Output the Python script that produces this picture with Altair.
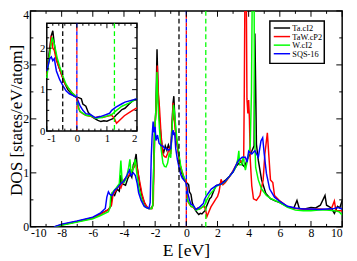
import altair as alt
import pandas as pd

FONT = "Liberation Serif, Times New Roman, serif"

series_names = ["Ta.cI2", "TaW.cP2", "W.cI2", "SQS-16"]
series_colors = ["#000000", "#ff0000", "#00ff00", "#0000ff"]

ta_e = [-8.45, -8.0, -7.0, -6.0, -5.5, -5.0, -4.85, -4.75, -4.6, -4.45, -4.3, -4.2, -4.1, -3.9, -3.75, -3.6, -3.5, -3.4, -3.3, -3.22, -3.15, -3.0, -2.85, -2.7, -2.55, -2.4, -2.25, -2.15, -2.1, -2.05, -2.0, -1.95, -1.88, -1.82, -1.75, -1.65, -1.55, -1.45, -1.35, -1.25, -1.15, -1.0, -0.92, -0.85, -0.8, -0.75, -0.68, -0.6, -0.5, -0.4, -0.3, -0.2, -0.1, 0.0, 0.08, 0.15, 0.2, 0.3, 0.38, 0.5, 0.6, 0.7, 0.8, 0.9, 1.0, 1.1, 1.2, 1.3, 1.4, 1.5, 1.6, 1.75, 1.9, 2.0, 2.2, 2.5, 2.75, 3.0, 3.2, 3.35, 3.5, 3.6, 3.75, 3.9, 4.0, 4.2, 4.35, 4.4, 4.45, 4.5, 4.62, 4.83, 5.1, 5.4, 5.7, 6.0, 6.5, 6.9, 7.1, 7.25, 7.6, 8.0, 8.3, 8.6, 8.9, 9.0, 9.3, 9.5, 9.7, 9.85, 10.0]
ta_dos = [0.0, 0.04, 0.10, 0.17, 0.24, 0.32, 0.38, 0.62, 0.58, 0.70, 0.66, 0.96, 0.80, 0.77, 0.90, 0.98, 0.92, 1.15, 1.22, 1.35, 1.10, 0.80, 0.58, 0.45, 0.37, 0.34, 0.34, 0.40, 1.0, 1.7, 1.9, 2.2, 3.29, 2.6, 2.1, 1.75, 1.45, 1.38, 1.50, 1.42, 1.52, 1.40, 1.9, 2.3, 2.42, 2.1, 1.75, 1.55, 1.35, 1.15, 1.0, 0.92, 0.85, 0.82, 0.80, 0.78, 0.65, 0.60, 0.45, 0.35, 0.30, 0.26, 0.23, 0.25, 0.24, 0.27, 0.30, 0.38, 0.45, 0.52, 0.55, 0.66, 0.76, 0.77, 0.80, 0.86, 0.93, 1.02, 1.12, 1.17, 1.22, 1.15, 1.11, 1.25, 1.30, 1.40, 1.5, 3.58, 2.6, 1.53, 1.23, 0.87, 0.62, 0.52, 0.48, 0.45, 0.37, 0.35, 0.49, 0.34, 0.33, 0.36, 0.35, 0.40, 0.58, 0.40, 0.35, 0.25, 0.38, 0.35, 0.49]

taw_e = [-8.45, -8.0, -7.0, -6.0, -5.5, -5.0, -4.8, -4.7, -4.5, -4.35, -4.2, -4.05, -3.9, -3.7, -3.5, -3.35, -3.25, -3.15, -3.0, -2.85, -2.7, -2.55, -2.4, -2.2, -2.12, -2.07, -2.0, -1.92, -1.86, -1.8, -1.72, -1.62, -1.5, -1.4, -1.3, -1.2, -1.1, -1.0, -0.9, -0.85, -0.8, -0.75, -0.68, -0.6, -0.5, -0.4, -0.3, -0.15, 0.0, 0.05, 0.1, 0.2, 0.3, 0.45, 0.6, 0.75, 0.84, 1.0, 1.16, 1.25, 1.32, 1.45, 1.58, 1.75, 1.95, 2.0, 2.1, 2.23, 2.35, 2.5, 2.75, 3.0, 3.2, 3.35, 3.5, 3.68, 3.72, 3.76, 3.85, 3.89, 3.95, 4.0, 4.05, 4.1, 4.2, 4.31, 4.5, 4.72, 4.93, 5.04, 5.2, 5.3, 5.4, 5.55, 5.66, 6.0, 6.5, 7.0, 7.5, 8.0, 8.5, 9.0, 9.3, 9.5, 9.6, 10.0]
taw_dos = [0.0, 0.04, 0.10, 0.16, 0.23, 0.32, 0.40, 0.60, 0.68, 0.77, 0.72, 0.85, 0.90, 0.95, 1.05, 1.10, 1.18, 1.08, 0.85, 0.62, 0.46, 0.38, 0.34, 0.34, 0.45, 1.2, 1.9, 2.3, 2.99, 2.5, 2.2, 1.7, 1.34, 1.30, 1.29, 1.36, 1.45, 1.35, 1.9, 2.30, 2.0, 1.95, 1.7, 1.55, 1.35, 1.15, 1.05, 0.92, 0.82, 0.6, 0.47, 0.42, 0.38, 0.36, 0.32, 0.35, 0.33, 0.36, 0.38, 0.30, 0.19, 0.28, 0.37, 0.45, 0.54, 0.56, 0.65, 0.88, 0.78, 0.82, 0.92, 1.04, 1.15, 1.25, 1.2, 1.23, 2.5, 4.3, 4.3, 2.37, 2.1, 2.35, 2.0, 1.26, 0.76, 0.52, 0.49, 0.58, 0.87, 1.35, 1.74, 1.3, 0.87, 0.82, 0.58, 0.48, 0.37, 0.34, 0.33, 0.32, 0.33, 0.32, 0.33, 0.48, 0.30, 0.30]

w_e = [-8.45, -8.0, -7.0, -6.0, -5.5, -5.0, -4.9, -4.85, -4.7, -4.5, -4.3, -4.2, -4.12, -4.0, -3.85, -3.7, -3.62, -3.55, -3.45, -3.35, -3.27, -3.18, -3.05, -2.9, -2.75, -2.6, -2.4, -2.22, -2.15, -2.1, -2.02, -1.95, -1.88, -1.82, -1.72, -1.62, -1.5, -1.4, -1.3, -1.2, -1.1, -1.0, -0.9, -0.82, -0.75, -0.65, -0.57, -0.45, -0.36, -0.2, -0.1, 0.0, 0.05, 0.12, 0.3, 0.5, 0.62, 0.84, 1.0, 1.16, 1.32, 1.5, 1.75, 1.95, 2.0, 2.25, 2.5, 2.75, 3.0, 3.2, 3.3, 3.37, 3.42, 3.55, 3.65, 3.79, 3.9, 4.0, 4.1, 4.18, 4.23, 4.35, 4.38, 4.45, 4.62, 4.83, 5.14, 5.45, 6.0, 6.5, 7.0, 7.5, 8.0, 8.5, 9.0, 9.5, 9.8, 10.0]
w_dos = [0.0, 0.03, 0.09, 0.15, 0.21, 0.28, 0.35, 0.58, 0.65, 0.72, 0.80, 1.23, 0.85, 0.82, 0.90, 1.10, 1.25, 1.0, 1.05, 1.15, 1.25, 1.0, 0.72, 0.55, 0.42, 0.36, 0.34, 0.34, 0.40, 1.0, 1.8, 2.2, 2.87, 2.3, 1.8, 1.45, 1.18, 1.12, 1.11, 1.18, 1.35, 1.28, 1.9, 2.26, 2.1, 1.75, 1.56, 1.3, 1.13, 0.95, 0.88, 0.81, 0.55, 0.47, 0.38, 0.36, 0.31, 0.33, 0.36, 0.40, 0.50, 0.60, 0.68, 0.76, 0.76, 0.79, 0.84, 0.93, 1.02, 1.12, 1.25, 1.41, 1.15, 1.15, 1.3, 1.05, 1.2, 1.35, 1.5, 2.5, 4.3, 4.3, 1.71, 1.1, 0.87, 0.70, 0.58, 0.52, 0.45, 0.36, 0.31, 0.30, 0.30, 0.31, 0.31, 0.30, 0.28, 0.22]

sqs_e = [-8.5, -8.0, -7.0, -6.0, -5.5, -5.2, -5.1, -5.0, -4.9, -4.77, -4.6, -4.4, -4.2, -4.0, -3.8, -3.65, -3.55, -3.4, -3.27, -3.15, -3.06, -2.9, -2.7, -2.5, -2.4, -2.32, -2.25, -2.2, -2.13, -2.07, -2.0, -1.95, -1.85, -1.75, -1.6, -1.5, -1.4, -1.3, -1.15, -1.0, -0.9, -0.85, -0.8, -0.75, -0.68, -0.57, -0.45, -0.36, -0.25, -0.1, 0.0, 0.1, 0.2, 0.3, 0.45, 0.62, 0.78, 0.9, 1.09, 1.16, 1.3, 1.5, 1.6, 1.95, 2.0, 2.23, 2.5, 2.75, 3.0, 3.2, 3.35, 3.58, 3.79, 3.9, 4.0, 4.2, 4.4, 4.62, 4.79, 4.9, 5.0, 5.14, 5.35, 5.66, 6.0, 6.5, 7.0, 7.5, 8.0, 8.5, 9.0, 9.5, 9.7, 10.0]
sqs_dos = [0.0, 0.05, 0.11, 0.18, 0.26, 0.34, 0.55, 0.65, 0.60, 0.58, 0.68, 0.73, 0.80, 0.85, 0.96, 1.05, 0.95, 1.0, 0.95, 0.80, 0.63, 0.49, 0.38, 0.35, 0.34, 0.45, 1.3, 1.65, 1.95, 1.75, 1.85, 1.6, 1.7, 1.55, 1.5, 1.5, 1.45, 1.45, 1.42, 1.45, 1.75, 1.79, 1.7, 1.75, 1.45, 1.24, 1.08, 0.97, 0.90, 0.85, 0.80, 0.62, 0.50, 0.42, 0.40, 0.32, 0.35, 0.38, 0.43, 0.50, 0.58, 0.66, 0.70, 0.77, 0.77, 0.79, 0.85, 0.93, 1.02, 1.15, 1.23, 1.29, 1.29, 1.2, 1.4, 1.35, 1.41, 1.29, 1.59, 1.65, 1.35, 0.99, 0.70, 0.55, 0.47, 0.38, 0.35, 0.33, 0.33, 0.32, 0.33, 0.34, 0.36, 0.33]

# reference energies (vertical dashed lines)
ref_e = [-0.47, 0.0, 0.0, 1.25]
ref_color = ["#000000", "#0000ff", "#ff0000", "#00ff00"]

main_x_major = [-10, -8, -6, -4, -2, 0, 2, 4, 6, 8, 10]
main_x_minor = [-9, -7, -5, -3, -1, 1, 3, 5, 7, 9]
main_y_major = [0, 1, 2, 3, 4]
main_y_minor = [0.5, 1.5, 2.5, 3.5]
inset_x_major = [-1, 0, 1, 2]
inset_x_minor = [-0.8, -0.6, -0.4, -0.2, 0.2, 0.4, 0.6, 0.8, 1.2, 1.4, 1.6, 1.8]
inset_y_major = [0, 1, 2]
inset_y_minor = [0.25, 0.5, 0.75, 1.25, 1.5, 1.75, 2.25, 2.5]

x_title = "E  [eV]"
y_title = "DOS  [states/eV/atom]"

frames = []
for name, e, d in [(series_names[0], ta_e, ta_dos), (series_names[1], taw_e, taw_dos),
                   (series_names[2], w_e, w_dos), (series_names[3], sqs_e, sqs_dos)]:
    frames.append(pd.DataFrame({"E": e, "DOS": d, "series": name}))
df = pd.concat(frames, ignore_index=True)

W, H = 319, 221
# inset box in plot-local pixels
IX0, IX1, IY0, IY1 = 16.7, 109.0, 123.0, 12.7

xs = alt.Scale(domain=[-10, 10], nice=False, zero=False)
ys = alt.Scale(domain=[0, 4], nice=False, zero=False)
ixs = alt.Scale(domain=[-1, 2], range=[IX0, IX1], nice=False, zero=False)
iys = alt.Scale(domain=[0, 2.6], range=[IY0, IY1], nice=False, zero=False)
cscale = alt.Scale(domain=series_names, range=series_colors)

ax_common = dict(ticks=False, domain=False, grid=False, labelFont=FONT, labelColor="black",
                 labelExpr="'' + datum.value")

main_lines = alt.Chart(df).mark_line(strokeWidth=1.5, clip=True).encode(
    x=alt.X("E:Q", scale=xs, axis=alt.Axis(values=main_x_major, labelFontSize=12, labelPadding=1,
                                           title=None, **ax_common)),
    y=alt.Y("DOS:Q", scale=ys, axis=alt.Axis(values=main_y_major, labelFontSize=12, labelPadding=2,
                                             labelOffset={"condition": {"test": "datum.value == 4", "value": 4},
                                                          "value": 0},
                                             title=y_title, titleFont=FONT, titleFontSize=17.5,
                                             titleFontWeight="normal", titleColor="black",
                                             titleBaseline="alphabetic", titleX=-9.5, titleY=H / 2 + 1,
                                             titleAngle=270, titleAlign="center",
                                             **ax_common)),
    color=alt.Color("series:N", scale=cscale, legend=None),
)

xtitle = alt.Chart(pd.DataFrame({"t": [x_title]})).mark_text(
    font=FONT, fontSize=18, align="center", baseline="alphabetic", color="black").encode(
    x=alt.value(W / 2), y=alt.value(H + 29.5), text="t:N")

vdf = pd.DataFrame({"E": ref_e, "c": ref_color})


def vlines(xscale, y0, y1):
    base = alt.Chart(vdf).encode(
        x=alt.X("E:Q", scale=xscale, axis=None), y=alt.value(y0), y2=alt.value(y1),
        color=alt.Color("c:N", scale=None))
    a = base.mark_rule(strokeWidth=1.3, strokeDash=[5, 3]).transform_filter(
        "datum.c == '#000000' || datum.c == '#00ff00'")
    b = base.mark_rule(strokeWidth=1.3, strokeDash=[4, 4]).transform_filter("datum.c == '#0000ff'")
    c = base.mark_rule(strokeWidth=1.3, strokeDash=[4, 4], strokeDashOffset=4).transform_filter(
        "datum.c == '#ff0000'")
    return [a, b, c]


inset_box = alt.Chart(pd.DataFrame({"x0": [-1], "x1": [2], "y0": [0], "y1": [2.6]})).mark_rect(
    fill="white", stroke="black", strokeWidth=1.5).encode(
    x=alt.X("x0:Q", scale=ixs, axis=None), x2="x1:Q",
    y=alt.Y("y0:Q", scale=iys, axis=None), y2="y1:Q")

inset_lines = alt.Chart(df).mark_line(strokeWidth=1.5).encode(
    x=alt.X("E:Q", scale=ixs, axis=alt.Axis(values=inset_x_major, orient="bottom", offset=IY0 - H,
                                            labelFontSize=11, labelPadding=2, title=None, **ax_common)),
    y=alt.Y("DOS:Q", scale=iys, axis=alt.Axis(values=inset_y_major, orient="left", offset=-IX0,
                                              labelFontSize=11, labelPadding=2, title=None, **ax_common)),
    color=alt.Color("series:N", scale=cscale, legend=None),
).transform_filter(alt.FieldRangePredicate(field="E", range=[-1, 2]))


def xticks(vals, scale, y0, y1):
    return alt.Chart(pd.DataFrame({"v": vals})).mark_rule(color="black", strokeWidth=1).encode(
        x=alt.X("v:Q", scale=scale, axis=None), y=alt.value(y0), y2=alt.value(y1))


def yticks(vals, scale, x0, x1):
    return alt.Chart(pd.DataFrame({"v": vals})).mark_rule(color="black", strokeWidth=1).encode(
        y=alt.Y("v:Q", scale=scale, axis=None), x=alt.value(x0), x2=alt.value(x1))


ticks = [
    xticks(main_x_major, xs, H, H - 6), xticks(main_x_minor, xs, H, H - 3),
    xticks(main_x_major, xs, 0, 6), xticks(main_x_minor, xs, 0, 3),
    yticks(main_y_major, ys, 0, 6), yticks(main_y_minor, ys, 0, 3),
    yticks(main_y_major, ys, W, W - 6), yticks(main_y_minor, ys, W, W - 3),
    xticks(inset_x_major, ixs, IY0, IY0 - 5), xticks(inset_x_minor, ixs, IY0, IY0 - 2.5),
    xticks(inset_x_major, ixs, IY1, IY1 + 5), xticks(inset_x_minor, ixs, IY1, IY1 + 2.5),
    yticks(inset_y_major, iys, IX0, IX0 + 5), yticks(inset_y_minor, iys, IX0, IX0 + 2.5),
    yticks(inset_y_major, iys, IX1, IX1 - 5), yticks(inset_y_minor, iys, IX1, IX1 - 2.5),
]

# legend (drawn as marks)
leg_df = pd.DataFrame({"row": [0, 1, 2, 3], "series": series_names})
leg_y = alt.Scale(domain=[0, 3], range=[17.5, 43.8])
leg_frame = alt.Chart(pd.DataFrame({"a": [0]})).mark_rect(
    fill="white", stroke="black", strokeWidth=1.5).encode(
    x=alt.value(245), x2=alt.value(300.7), y=alt.value(10.3), y2=alt.value(53.7))
leg_lines = alt.Chart(leg_df).mark_rule(strokeWidth=1.5).encode(
    x=alt.value(249), x2=alt.value(265.7), y=alt.Y("row:Q", scale=leg_y, axis=None),
    color=alt.Color("series:N", scale=cscale, legend=None))
leg_text = alt.Chart(leg_df).mark_text(align="left", baseline="middle", font=FONT, fontSize=8.5,
                                       color="black").encode(
    x=alt.value(268), y=alt.Y("row:Q", scale=leg_y, axis=None), text="series:N")

layers = [main_lines] + vlines(xs, 0, H) + [inset_box, inset_lines] + vlines(ixs, IY1, IY0) + ticks + [
    leg_frame, leg_lines, leg_text, xtitle]

chart = alt.layer(*layers).resolve_scale(x="independent", y="independent").properties(
    width=W, height=H,
    padding={"left": 23, "top": 0, "right": 7, "bottom": 33},
    autosize=alt.AutoSizeParams(type="none"),
    background="white",
).configure_view(stroke="black", strokeWidth=1.5)

chart.save("out.html", embed_options={"renderer": "svg", "actions": False})
